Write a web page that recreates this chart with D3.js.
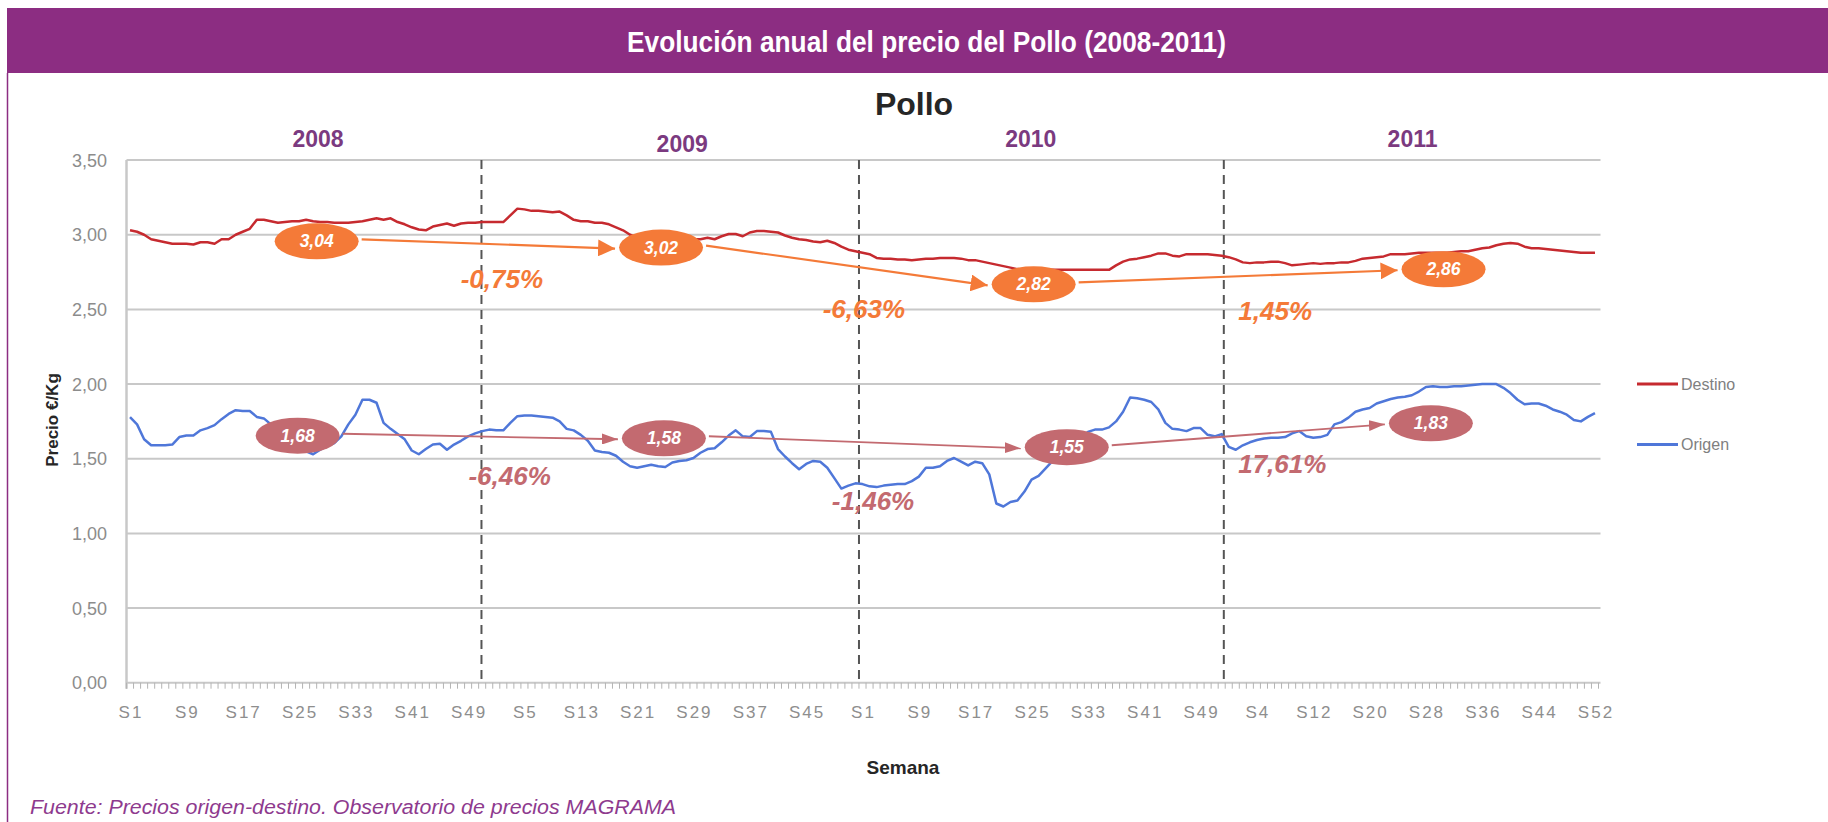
<!DOCTYPE html>
<html>
<head>
<meta charset="utf-8">
<script src="https://cdn.jsdelivr.net/npm/d3@7/dist/d3.min.js"></script>
<style>
  body { margin: 0; background: #fff; }
  svg text { font-family: "Liberation Sans", Arial, sans-serif; }
</style>
</head>
<body>
<svg id="chart" width="1828" height="822"></svg>
<script>
// categories
var years = ['2008', '2009', '2010', '2011'];
var weeksPerYear = [52, 52, 53, 52];
var yTicks = [0, 0.5, 1, 1.5, 2, 2.5, 3, 3.5];

// precio destino (rojo), semanal 2008-2011
var destino = [
  3.03, 3.02, 3.00, 2.97, 2.96, 2.95, 2.94, 2.94, 2.94, 2.935, 2.95, 2.95, 2.94, 2.97, 2.97, 3.00, 3.02, 3.04, 3.10, 3.10,
  3.09, 3.08, 3.085, 3.09, 3.09, 3.10, 3.09, 3.085, 3.085, 3.08, 3.08, 3.08, 3.085, 3.09, 3.10, 3.11, 3.10, 3.11, 3.085, 3.07,
  3.05, 3.035, 3.03, 3.055, 3.065, 3.075, 3.06, 3.075, 3.08, 3.08, 3.085, 3.085, 3.085, 3.085, 3.13, 3.175, 3.17, 3.16, 3.16, 3.155,
  3.15, 3.155, 3.13, 3.10, 3.09, 3.09, 3.08, 3.08, 3.07, 3.05, 3.03, 3.00, 2.98, 2.97, 2.965, 2.965, 2.965, 2.965, 2.97, 2.97,
  2.97, 2.97, 2.98, 2.97, 2.99, 3.005, 3.005, 2.99, 3.015, 3.025, 3.025, 3.02, 3.015, 2.995, 2.98, 2.97, 2.965, 2.955, 2.95, 2.96,
  2.945, 2.92, 2.90, 2.89, 2.88, 2.87, 2.845, 2.84, 2.84, 2.835, 2.835, 2.83, 2.835, 2.84, 2.84, 2.845, 2.845, 2.845, 2.84, 2.83,
  2.83, 2.82, 2.81, 2.80, 2.79, 2.78, 2.77, 2.765, 2.765, 2.765, 2.765, 2.765, 2.765, 2.765, 2.765, 2.765, 2.765, 2.765, 2.765, 2.765,
  2.795, 2.82, 2.835, 2.84, 2.85, 2.86, 2.875, 2.875, 2.86, 2.855, 2.87, 2.87, 2.87, 2.87, 2.865, 2.86, 2.85, 2.835, 2.815, 2.81,
  2.815, 2.815, 2.82, 2.82, 2.81, 2.795, 2.80, 2.805, 2.81, 2.805, 2.81, 2.81, 2.815, 2.815, 2.825, 2.84, 2.845, 2.85, 2.855, 2.87,
  2.87, 2.87, 2.875, 2.88, 2.88, 2.88, 2.88, 2.88, 2.885, 2.89, 2.89, 2.90, 2.91, 2.915, 2.93, 2.94, 2.945, 2.94, 2.92, 2.91,
  2.91, 2.905, 2.90, 2.895, 2.89, 2.885, 2.88, 2.88, 2.88
];

// precio origen (azul), semanal 2008-2011
var origen = [
  1.778, 1.73, 1.63, 1.59, 1.59, 1.59, 1.595, 1.645, 1.655, 1.655, 1.69, 1.705, 1.725, 1.765, 1.80, 1.825, 1.82, 1.82, 1.78, 1.77,
  1.73, 1.66, 1.62, 1.585, 1.56, 1.55, 1.53, 1.56, 1.585, 1.605, 1.65, 1.73, 1.795, 1.895, 1.895, 1.875, 1.74, 1.70, 1.665, 1.63,
  1.555, 1.53, 1.565, 1.595, 1.60, 1.56, 1.595, 1.62, 1.65, 1.67, 1.685, 1.695, 1.69, 1.69, 1.74, 1.785, 1.79, 1.79, 1.785, 1.78,
  1.775, 1.75, 1.70, 1.69, 1.66, 1.62, 1.555, 1.545, 1.54, 1.52, 1.48, 1.45, 1.44, 1.45, 1.46, 1.45, 1.445, 1.475, 1.485, 1.49,
  1.505, 1.54, 1.565, 1.57, 1.61, 1.655, 1.69, 1.65, 1.645, 1.685, 1.685, 1.68, 1.565, 1.515, 1.47, 1.43, 1.465, 1.485, 1.48, 1.44,
  1.37, 1.30, 1.32, 1.335, 1.33, 1.315, 1.31, 1.32, 1.325, 1.33, 1.33, 1.35, 1.38, 1.44, 1.44, 1.45, 1.485, 1.505, 1.48, 1.455,
  1.48, 1.47, 1.395, 1.20, 1.18, 1.21, 1.22, 1.28, 1.36, 1.385, 1.435, 1.485, 1.52, 1.55, 1.58, 1.63, 1.68, 1.695, 1.695, 1.71,
  1.75, 1.815, 1.91, 1.905, 1.895, 1.88, 1.83, 1.74, 1.70, 1.695, 1.685, 1.705, 1.705, 1.66, 1.65, 1.665, 1.58, 1.56, 1.59, 1.61,
  1.625, 1.635, 1.64, 1.64, 1.645, 1.67, 1.685, 1.65, 1.64, 1.645, 1.66, 1.73, 1.745, 1.775, 1.815, 1.83, 1.84, 1.87, 1.885, 1.90,
  1.91, 1.915, 1.925, 1.95, 1.98, 1.985, 1.98, 1.98, 1.985, 1.985, 1.99, 1.995, 2.00, 2.00, 2.00, 1.975, 1.94, 1.895, 1.865, 1.87,
  1.87, 1.855, 1.83, 1.815, 1.795, 1.76, 1.75, 1.78, 1.805
];

// annotations (week index, price)
var yearBreaks = [49.9, 103.5, 155.3];
var yearLabelWeek = [26.7, 78.4, 127.9, 182.1];
var avgDestino = [
  {label: '3,04', week: 26.5, value: 2.956},
  {label: '3,02', week: 75.4, value: 2.914},
  {label: '2,82', week: 128.3, value: 2.668},
  {label: '2,86', week: 186.5, value: 2.769}
];
var avgOrigen = [
  {label: '1,68', week: 23.8, value: 1.654},
  {label: '1,58', week: 75.8, value: 1.637},
  {label: '1,55', week: 133.0, value: 1.577},
  {label: '1,83', week: 184.7, value: 1.737}
];
var pctDestino = [
  {label: '-0,75%', week: 52.8, value: 2.642},
  {label: '-6,63%', week: 104.2, value: 2.441},
  {label: '1,45%', week: 162.6, value: 2.429}
];
var pctOrigen = [
  {label: '-6,46%', week: 53.9, value: 1.324},
  {label: '-1,46%', week: 105.5, value: 1.157},
  {label: '17,61%', week: 163.6, value: 1.402}
];

var weeks = [];
weeksPerYear.forEach(function(n){
  for (var w = 1; w <= n; w++) weeks.push('S' + w);
});

var svg = d3.select('#chart');
var purple = '#8c2d82';
var orange = '#f47a38';
var mauve = '#c36a70';

var x = d3.scaleLinear().domain([-0.5, weeks.length - 0.5]).range([126.5, 1598.5]);
var y = d3.scaleLinear().domain([0, 3.5]).range([682.7, 160.1]);

// header band
svg.append('rect')
   .attr('x', 7).attr('y', 8).attr('width', 1821).attr('height', 65)
   .attr('fill', purple);
svg.append('text')
   .text('Evolución anual del precio del Pollo (2008-2011)')
   .attr('x', 627).attr('y', 52)
   .attr('textLength', 599).attr('lengthAdjust', 'spacingAndGlyphs')
   .style('font-family', '"Liberation Sans Narrow", "Arial Narrow", "Liberation Sans", sans-serif')
   .attr('font-weight', 'bold')
   .attr('font-size', '30px')
   .attr('fill', '#fff');
svg.append('line')
   .attr('x1', 7.5).attr('x2', 7.5).attr('y1', 73).attr('y2', 822)
   .attr('stroke', purple).attr('stroke-width', 1.5);

// chart title
svg.append('text')
   .text('Pollo')
   .attr('x', 914).attr('y', 115)
   .attr('text-anchor', 'middle')
   .attr('font-weight', 'bold')
   .attr('font-size', '32px')
   .attr('fill', '#262626');

// grid + y axis labels
svg.selectAll('.grid')
   .data(yTicks)
   .enter()
   .append('line')
   .attr('class', 'grid')
   .attr('x1', x(-0.5)).attr('x2', x(weeks.length - 0.5) + 2)
   .attr('y1', d => y(d)).attr('y2', d => y(d))
   .attr('stroke', '#c8c8c8')
   .attr('stroke-width', 2);
svg.append('line')
   .attr('x1', x(-0.5)).attr('x2', x(-0.5))
   .attr('y1', y(3.5)).attr('y2', y(0) + 6)
   .attr('stroke', '#c8c8c8').attr('stroke-width', 2.5);
svg.selectAll('.ylab')
   .data(yTicks)
   .enter()
   .append('text')
   .attr('class', 'ylab')
   .text(d => d3.format('.2f')(d).replace('.', ','))
   .attr('x', 107)
   .attr('y', d => y(d) + 6.5)
   .attr('text-anchor', 'end')
   .attr('font-size', '18px')
   .attr('fill', '#8c8c8c');
svg.append('text')
   .text('Precio €/Kg')
   .attr('transform', 'translate(58,420) rotate(-90)')
   .attr('text-anchor', 'middle')
   .attr('font-weight', 'bold')
   .attr('font-size', '17px')
   .attr('fill', '#262626');

// x axis: minor ticks at every week, label every 8 weeks
svg.selectAll('.xtick')
   .data(d3.range(weeks.length + 1))
   .enter()
   .append('line')
   .attr('class', 'xtick')
   .attr('x1', d => x(d - 0.5)).attr('x2', d => x(d - 0.5))
   .attr('y1', y(0)).attr('y2', y(0) + 6)
   .attr('stroke', '#b4b4b4')
   .attr('stroke-width', 1);
svg.selectAll('.xlab')
   .data(weeks.map((w, i) => ({w: w, i: i})).filter(d => d.i % 8 === 0))
   .enter()
   .append('text')
   .attr('class', 'xlab')
   .text(d => d.w)
   .attr('x', d => x(d.i) + 1)
   .attr('y', 718)
   .attr('text-anchor', 'middle')
   .attr('letter-spacing', '2px')
   .attr('font-size', '17px')
   .attr('fill', '#8e8e8e');
svg.append('text')
   .text('Semana')
   .attr('x', 903).attr('y', 774)
   .attr('text-anchor', 'middle')
   .attr('font-weight', 'bold')
   .attr('font-size', '19px')
   .attr('fill', '#262626');

// year separators and labels
svg.selectAll('.sep')
   .data(yearBreaks)
   .enter()
   .append('line')
   .attr('class', 'sep')
   .attr('x1', d => x(d)).attr('x2', d => x(d))
   .attr('y1', y(3.5)).attr('y2', y(0))
   .attr('stroke', '#555')
   .attr('stroke-width', 2)
   .attr('stroke-dasharray', '9,6');
svg.selectAll('.year')
   .data(years)
   .enter()
   .append('text')
   .attr('class', 'year')
   .text(d => d)
   .attr('x', (d, i) => x(yearLabelWeek[i]))
   .attr('y', (d, i) => i === 1 ? 152 : 147)
   .attr('text-anchor', 'middle')
   .attr('font-weight', 'bold')
   .attr('font-size', '23px')
   .attr('fill', '#7b3a80');

// series
var line = d3.line()
   .x((d, i) => x(i))
   .y(d => y(d));
svg.append('path')
   .datum(destino)
   .attr('d', line)
   .attr('fill', 'none')
   .attr('stroke', '#c62a2f')
   .attr('stroke-width', 2.5)
   .attr('stroke-linejoin', 'round');
svg.append('path')
   .datum(origen)
   .attr('d', line)
   .attr('fill', 'none')
   .attr('stroke', '#4f77d9')
   .attr('stroke-width', 2.5)
   .attr('stroke-linejoin', 'round');

// legend
var legend = [{name: 'Destino', color: '#c62a2f', v: 2.0}, {name: 'Origen', color: '#4f77d9', v: 1.595}];
var lg = svg.selectAll('.leg')
   .data(legend)
   .enter()
   .append('g')
   .attr('class', 'leg');
lg.append('line')
   .attr('x1', 1637).attr('x2', 1678)
   .attr('y1', d => y(d.v)).attr('y2', d => y(d.v))
   .attr('stroke', d => d.color)
   .attr('stroke-width', 3);
lg.append('text')
   .text(d => d.name)
   .attr('x', 1681)
   .attr('y', d => y(d.v) + 5.5)
   .attr('font-size', '16px')
   .attr('fill', '#808080');

// arrows
var defs = svg.append('defs');
function marker(id, color, len, wid) {
  defs.append('marker')
      .attr('id', id)
      .attr('markerUnits', 'userSpaceOnUse')
      .attr('markerWidth', len).attr('markerHeight', wid)
      .attr('refX', len).attr('refY', wid / 2)
      .attr('orient', 'auto')
      .append('path')
      .attr('d', 'M0,0 L' + len + ',' + (wid / 2) + ' L0,' + wid + ' Z')
      .attr('fill', color);
}
marker('arrowO', orange, 17, 17);
marker('arrowM', mauve, 16, 11);

function drawAnnotations(avgs, pcts, color, markerId, width) {
  var pairs = d3.pairs(avgs);
  svg.selectAll('.arr-' + markerId)
     .data(pairs)
     .enter()
     .append('line')
     .attr('class', 'arr-' + markerId)
     .attr('x1', d => x(d[0].week) + 45)
     .attr('y1', d => y(d[0].value) - 2)
     .attr('x2', d => x(d[1].week) - 46)
     .attr('y2', d => y(d[1].value) + 1)
     .attr('stroke', color)
     .attr('stroke-width', width)
     .attr('marker-end', 'url(#' + markerId + ')');
  var g = svg.selectAll('.bub-' + markerId)
     .data(avgs)
     .enter()
     .append('g')
     .attr('class', 'bub-' + markerId);
  g.append('ellipse')
   .attr('cx', d => x(d.week))
   .attr('cy', d => y(d.value))
   .attr('rx', 42).attr('ry', 18)
   .attr('fill', color);
  g.append('text')
   .text(d => d.label)
   .attr('x', d => x(d.week))
   .attr('y', d => y(d.value) + 6)
   .attr('text-anchor', 'middle')
   .attr('font-weight', 'bold')
   .attr('font-style', 'italic')
   .attr('font-size', '17.5px')
   .attr('fill', '#fff');
  svg.selectAll('.pct-' + markerId)
     .data(pcts)
     .enter()
     .append('text')
     .attr('class', 'pct-' + markerId)
     .text(d => d.label)
     .attr('x', d => x(d.week))
     .attr('y', d => y(d.value))
     .attr('text-anchor', 'middle')
     .attr('font-weight', 'bold')
     .attr('font-style', 'italic')
     .attr('font-size', '26px')
     .attr('fill', color);
}
drawAnnotations(avgDestino, pctDestino, orange, 'arrowO', 2.2);
drawAnnotations(avgOrigen, pctOrigen, mauve, 'arrowM', 1.8);

// source
svg.append('text')
   .text('Fuente: Precios origen-destino. Observatorio de precios MAGRAMA')
   .attr('x', 30).attr('y', 814)
   .attr('textLength', 646).attr('lengthAdjust', 'spacingAndGlyphs')
   .attr('font-style', 'italic')
   .attr('font-size', '20px')
   .attr('fill', '#8e3a8e');
</script>
</body>
</html>
